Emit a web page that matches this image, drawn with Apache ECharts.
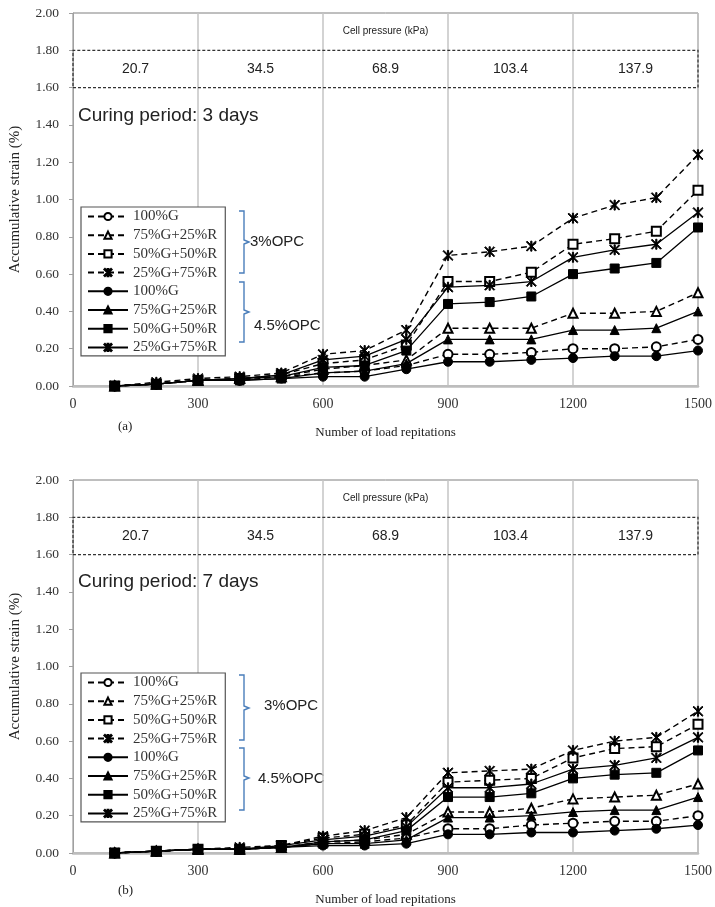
<!DOCTYPE html>
<html>
<head>
<meta charset="utf-8">
<script src="https://cdn.jsdelivr.net/npm/echarts@6/dist/echarts.min.js"></script>
<style>
html,body{margin:0;padding:0;background:#fff;}
#chart{width:715px;height:907px;}
</style>
</head>
<body>
<div id="chart"></div>
<script>
// ---------- data ----------
const reps = [100,200,300,400,500,600,700,800,900,1000,1100,1200,1300,1400,1500];
const xTicks = [0,300,600,900,1200,1500];
const stageBounds = [0,300,600,900,1200,1500];
const cellPressures = ['20.7','34.5','68.9','103.4','137.9'];
const mixes = ['100%G','75%G+25%R','50%G+50%R','25%G+75%R'];
const opcGroups = ['3%OPC','4.5%OPC'];
const curing = ['Curing period: 3 days','Curing period: 7 days'];
const panelTags = ['(a)','(b)'];

// (a) 3 days
const a3_100G = [0.00,0.01,0.03,0.03,0.05,0.07,0.08,0.11,0.17,0.17,0.18,0.20,0.20,0.21,0.25];
const a3_75G  = [0.00,0.01,0.03,0.04,0.05,0.09,0.11,0.14,0.31,0.31,0.31,0.39,0.39,0.40,0.50];
const a3_50G  = [0.00,0.01,0.03,0.04,0.06,0.12,0.14,0.22,0.56,0.56,0.61,0.76,0.79,0.83,1.05];
const a3_25G  = [0.00,0.02,0.04,0.05,0.07,0.17,0.19,0.30,0.70,0.72,0.75,0.90,0.97,1.01,1.24];
const a45_100G = [0.00,0.01,0.03,0.03,0.04,0.05,0.05,0.09,0.13,0.13,0.14,0.15,0.16,0.16,0.19];
const a45_75G  = [0.00,0.01,0.03,0.03,0.04,0.07,0.08,0.12,0.25,0.25,0.25,0.30,0.30,0.31,0.40];
const a45_50G  = [0.00,0.01,0.03,0.04,0.05,0.10,0.11,0.19,0.44,0.45,0.48,0.60,0.63,0.66,0.85];
const a45_25G  = [0.00,0.01,0.03,0.04,0.06,0.14,0.16,0.25,0.53,0.54,0.56,0.69,0.73,0.76,0.93];

// (b) 7 days
const b3_100G = [0.00,0.01,0.02,0.02,0.03,0.05,0.06,0.08,0.13,0.13,0.15,0.16,0.17,0.17,0.20];
const b3_75G  = [0.00,0.01,0.02,0.02,0.03,0.06,0.07,0.10,0.22,0.22,0.24,0.29,0.30,0.31,0.37];
const b3_50G  = [0.00,0.01,0.02,0.02,0.04,0.08,0.10,0.15,0.38,0.39,0.40,0.51,0.56,0.57,0.69];
const b3_25G  = [0.00,0.01,0.02,0.03,0.04,0.09,0.12,0.19,0.43,0.44,0.45,0.55,0.60,0.62,0.76];
const b45_100G = [0.00,0.01,0.02,0.02,0.03,0.04,0.04,0.05,0.10,0.10,0.11,0.11,0.12,0.13,0.15];
const b45_75G  = [0.00,0.01,0.02,0.02,0.03,0.05,0.05,0.07,0.19,0.19,0.20,0.22,0.23,0.23,0.30];
const b45_50G  = [0.00,0.01,0.02,0.02,0.03,0.06,0.07,0.12,0.30,0.30,0.32,0.40,0.42,0.43,0.55];
const b45_25G  = [0.00,0.01,0.02,0.02,0.04,0.07,0.09,0.14,0.35,0.35,0.37,0.45,0.47,0.51,0.62];

// ---------- styling ----------
const STAR = 'path://M4.4,0L5.6,0L5.6,10L4.4,10Z M0,0.8L0.8,0L10,9.2L9.2,10Z M9.2,0L10,0.8L0.8,10L0,9.2Z';
const symOpen = ['emptyCircle','emptyTriangle','emptyRect',STAR];
const symFill = ['circle','triangle','rect',STAR];
const serif = 'Liberation Serif, Times New Roman, serif';
const sans = 'Liberation Sans, Arial, sans-serif';

const panels = [
  {g3:[a3_100G,a3_75G,a3_50G,a3_25G], g45:[a45_100G,a45_75G,a45_50G,a45_25G]},
  {g3:[b3_100G,b3_75G,b3_50G,b3_25G], g45:[b45_100G,b45_75G,b45_50G,b45_25G]}
];
const gridTops = [13, 480];
const gridH = 373;

function pairs(vals){ return reps.map((r,i)=>[r,vals[i]]); }

const series = [];
const legendNames = [];
panels.forEach((p,pi)=>{
  [p.g3,p.g45].forEach((grp,gi)=>{
    grp.forEach((vals,mi)=>{
      const name = opcGroups[gi]+'|'+mixes[mi];
      if(pi===0) legendNames.push(name);
      const dashed = gi===0;
      const s = {
        type:'line', name:name, xAxisIndex:pi, yAxisIndex:pi,
        data:pairs(vals),
        symbol: dashed ? symOpen[mi] : symFill[mi],
        symbolSize: mi===3 ? 10 : 9,
        z: dashed ? 3 : 4,
        lineStyle:{color:'#000', width: dashed?1.4:1.3, type: dashed?[6,4]:'solid'},
        itemStyle:{color:'#000', borderColor:'#000', borderWidth:1},
        emphasis:{disabled:true}
      };
      if(gi===0 && mi===0){
        const areas = [];
        areas.push([{xAxis:stageBounds[0], yAxis:1.6,
            itemStyle:{color:'rgba(0,0,0,0)', borderColor:'#333', borderWidth:1.2, borderType:[3,2]},
            label:{show:false}},
          {xAxis:stageBounds[stageBounds.length-1], yAxis:1.8}]);
        areas.push([{xAxis:stageBounds[0], yAxis:1.8, itemStyle:{color:'rgba(0,0,0,0)', borderWidth:0},
            label:{show:true, position:'inside', formatter:'Cell pressure (kPa)', fontFamily:sans, fontSize:10, color:'#222'}},
          {xAxis:stageBounds[stageBounds.length-1], yAxis:2.0}]);
        cellPressures.forEach((cp,k)=>{
          areas.push([{xAxis:stageBounds[k], yAxis:1.6, itemStyle:{color:'rgba(0,0,0,0)', borderWidth:0},
              label:{show:true, position:'inside', formatter:cp, fontFamily:sans, fontSize:14, color:'#222'}},
            {xAxis:stageBounds[k+1], yAxis:1.8}]);
        });
        s.markArea = {silent:true, data:areas};
      }
      series.push(s);
    });
  });
});

const grids = gridTops.map(t=>({left:73, right:17, top:t, height:gridH, show:true, containLabel:false, outerBoundsMode:'none', borderColor:'#7f7f7f', borderWidth:1, backgroundColor:'rgba(0,0,0,0)'}));
const xAxes = gridTops.map((t,i)=>({
  type:'value', gridIndex:i, min:xTicks[0], max:xTicks[xTicks.length-1], interval:300,
  name:'Number of load repitations', nameLocation:'middle', nameGap:40,
  nameTextStyle:{fontFamily:serif, fontSize:13, color:'#222'},
  axisLine:{show:true, lineStyle:{color:'#bdbdbd', width:2.5}},
  axisTick:{show:false},
  axisLabel:{fontFamily:serif, fontSize:14, color:'#333', margin:11, formatter:v=>String(v)},
  splitLine:{show:true, lineStyle:{color:'#c4c4c4', width:1.5}}
}));
const yAxes = gridTops.map((t,i)=>({
  type:'value', gridIndex:i, min:0, max:2, interval:0.2,
  name:'Accumulative strain (%)', nameLocation:'middle', nameGap:50,
  nameTextStyle:{fontFamily:serif, fontSize:15, color:'#222'},
  axisLine:{show:true, lineStyle:{color:'#a0a0a0', width:1}},
  axisTick:{show:true, length:4, lineStyle:{color:'#a0a0a0'}},
  axisLabel:{fontFamily:serif, fontSize:13.5, color:'#333', margin:14, formatter:v=>v.toFixed(2)},
  splitLine:{show:false}
}));

const legendTops = [207, 673];
const legends = legendTops.map(t=>({
  orient:'vertical', left:81, top:t, data:legendNames,
  formatter:n=>n.split('|')[1],
  itemWidth:40, itemHeight:9, itemGap:3.7,
  padding:[2,8,1,6],
  borderColor:'#555', borderWidth:1.2, backgroundColor:'#fff',
  textStyle:{fontFamily:serif, fontSize:15, color:'#333', lineHeight:14},
  selectedMode:false
}));

const blue = '#4a7ebb';
function bracket(x, y1, y2, ym){
  return {type:'polyline', silent:true,
    shape:{points:[[x,y1],[x+5,y1],[x+5,ym-2],[x+10,ym],[x+5,ym+2],[x+5,y2],[x,y2]]},
    style:{stroke:blue, fill:null, lineWidth:1.4}};
}
const graphics = [
  bracket(239,211,273,242),
  {type:'text', left:250, top:234, silent:true, style:{text:opcGroups[0], font:'15px '+sans, fill:'#222'}},
  bracket(239,282,342,312),
  {type:'text', left:254, top:318, silent:true, style:{text:opcGroups[1], font:'15px '+sans, fill:'#222'}},
  {type:'text', left:78, top:106, silent:true, style:{text:curing[0], font:'19px '+sans, fill:'#222'}},
  {type:'text', left:118, top:420, silent:true, style:{text:panelTags[0], font:'13px '+serif, fill:'#222'}},

  bracket(239,675,740,708),
  {type:'text', left:264, top:698, silent:true, style:{text:opcGroups[0], font:'15px '+sans, fill:'#222'}},
  bracket(239,748,810,778),
  {type:'text', left:258, top:771, silent:true, style:{text:opcGroups[1], font:'15px '+sans, fill:'#222'}},
  {type:'text', left:78, top:572, silent:true, style:{text:curing[1], font:'19px '+sans, fill:'#222'}},
  {type:'text', left:118, top:884, silent:true, style:{text:panelTags[1], font:'13px '+serif, fill:'#222'}}
];

const chart = echarts.init(document.getElementById('chart'), null, {renderer:'canvas'});
chart.setOption({
  animation:false,
  backgroundColor:'#fff',
  grid:grids, xAxis:xAxes, yAxis:yAxes,
  legend:legends,
  series:series,
  graphic:graphics
});
</script>
</body>
</html>
